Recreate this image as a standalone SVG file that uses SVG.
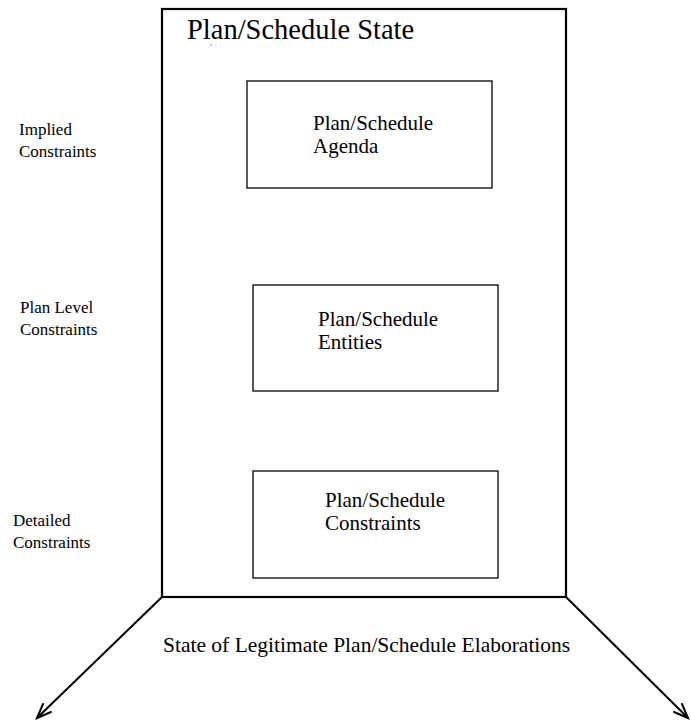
<svg xmlns="http://www.w3.org/2000/svg" width="691" height="727" viewBox="0 0 691 727">
<defs>
<style>
text { font-family: "Liberation Serif", "Times New Roman", serif; fill: #000; }
.box { fill: none; stroke: #000; stroke-width: 1.3; }
.outer { fill: none; stroke: #000; stroke-width: 2.2; }
.lbl { font-size: 17px; }
.node { font-size: 21px; }
.conn { stroke: #000; stroke-width: 2; fill: none; }
.head { stroke: #000; stroke-width: 2; fill: none; stroke-linecap: round; }
</style>
</defs>
<rect width="691" height="727" fill="#fff"/>
<g id="state">
<rect class="outer" x="162" y="9" width="404" height="588"/>
<text x="187" y="39" font-size="28.5px">Plan/Schedule State</text>
<circle cx="211" cy="45" r="0.6" fill="#000"/>
</g>
<g id="agenda">
<rect class="box" x="247" y="81" width="245" height="107"/>
<text class="node" x="313" y="130">Plan/Schedule</text>
<text class="node" x="313" y="153">Agenda</text>
</g>
<g id="entities">
<rect class="box" x="253" y="285" width="245" height="106"/>
<text class="node" x="318" y="326">Plan/Schedule</text>
<text class="node" x="318" y="349">Entities</text>
</g>
<g id="constraints">
<rect class="box" x="253" y="471" width="245" height="107"/>
<text class="node" x="325" y="507">Plan/Schedule</text>
<text class="node" x="325" y="530">Constraints</text>
</g>
<g id="labels">
<text class="lbl" x="19" y="135">Implied</text>
<text class="lbl" x="19" y="157">Constraints</text>
<text class="lbl" x="20" y="313">Plan Level</text>
<text class="lbl" x="20" y="335">Constraints</text>
<text class="lbl" x="13" y="526">Detailed</text>
<text class="lbl" x="13" y="548">Constraints</text>
<text x="163" y="652" font-size="21.5px">State of Legitimate Plan/Schedule Elaborations</text>
</g>
<g id="connectors">
<line class="conn" x1="162" y1="597" x2="37" y2="718"/>
<polyline class="head" points="43,704 37,718 51,712"/>
<line class="conn" x1="566" y1="597" x2="688" y2="718"/>
<polyline class="head" points="674,712 688,718 682,704"/>
</g>
</svg>
